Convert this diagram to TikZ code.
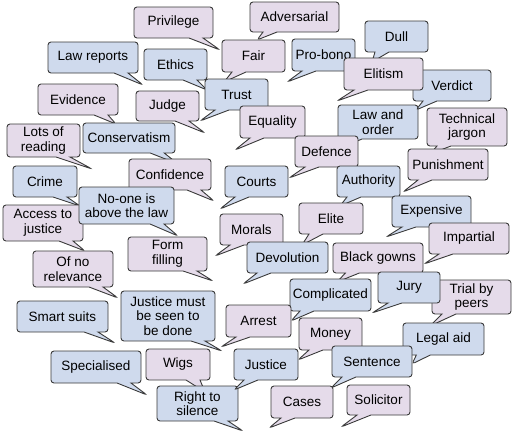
\documentclass[tikz,border=0pt]{standalone}
\usepackage{fontspec}
\setmainfont{Liberation Sans}
\usetikzlibrary{shapes.callouts}
\definecolor{BubblePink}{RGB}{229,219,234}
\definecolor{BubbleBlue}{RGB}{207,218,237}
\definecolor{BubbleEdge}{RGB}{58,58,58}
\tikzset{
  bubble/.style={rectangle callout,draw=BubbleEdge,line width=0.9pt,rounded corners=3pt,callout pointer width=14pt,minimum height=31pt,minimum width=63pt,inner sep=1pt,align=center,font=\fontsize{13.5}{14.5}\selectfont},
  pinkbubble/.style={bubble,fill=BubblePink},
  bluebubble/.style={bubble,fill=BubbleBlue}
}

\begin{document}
\begin{tikzpicture}[x=1pt,y=-1pt]
\useasboundingbox (0,0) rectangle (512,432);

% top rows
\node[pinkbubble,minimum width=79pt,callout absolute pointer={(220,50)}] (privilege) at (173.5,22.5) {Privilege};
\node[pinkbubble,minimum width=89pt,minimum height=30pt,callout absolute pointer={(257,40)}] (adversarial) at (294.5,17) {Adversarial};
\node[bluebubble,minimum width=90pt,callout absolute pointer={(143,85)}] (lawreports) at (93,57.5) {Law reports};
\node[bluebubble,callout absolute pointer={(207,90)}] (ethics) at (175.5,64.5) {Ethics};
\node[pinkbubble,minimum height=32pt,callout absolute pointer={(224,82)}] (fair) at (253.5,56) {Fair};
\node[bluebubble,callout absolute pointer={(200,121)}] (trust) at (236.5,94.5) {Trust};
\node[bluebubble,minimum height=32pt,callout absolute pointer={(287,82)}] (probono) at (323.5,55) {Pro-bono};
\node[bluebubble,callout absolute pointer={(372,62)}] (dull) at (396.5,36.5) {Dull};
\node[bluebubble,minimum width=80pt,minimum height=34pt,callout absolute pointer={(336,150)}] (laworder) at (378,122) {Law and\\order};
\node[bluebubble,minimum width=78pt,callout absolute pointer={(416,110)}] (verdict) at (452,85.5) {Verdict};
\node[pinkbubble,minimum width=79pt,minimum height=32pt,callout absolute pointer={(337,101)}] (elitism) at (383.5,74) {Elitism};
\node[pinkbubble,minimum width=80pt,callout absolute pointer={(116,124)}] (evidence) at (78,99.5) {Evidence};
\node[pinkbubble,minimum height=30pt,callout absolute pointer={(205,133)}] (judge) at (167.5,106) {Judge};
\node[pinkbubble,minimum width=65pt,minimum height=32pt,callout absolute pointer={(235,150)}] (equality) at (272.5,122) {Equality};
\node[pinkbubble,callout absolute pointer={(289,178)}] (defence) at (326.5,151.5) {Defence};
\node[pinkbubble,minimum width=80pt,minimum height=38pt,callout absolute pointer={(430,154)}] (jargon) at (467,127) {Technical\\jargon};
\node[pinkbubble,minimum width=80pt,callout absolute pointer={(403,192)}] (punishment) at (448,164.5) {Punishment};

% middle rows
\node[pinkbubble,minimum width=73pt,minimum height=33pt,callout absolute pointer={(92,169)}] (reading) at (43.5,140.5) {Lots of\\reading};
\node[bluebubble,minimum width=92pt,minimum height=30pt,callout absolute pointer={(178,164)}] (conservatism) at (129,138) {Conservatism};
\node[pinkbubble,minimum width=82pt,callout absolute pointer={(214,201)}] (confidence) at (170,174.5) {Confidence};
\node[bluebubble,minimum width=64pt,callout absolute pointer={(80,206)}] (crime) at (45,181.5) {Crime};
\node[pinkbubble,minimum width=80pt,minimum height=36pt,callout absolute pointer={(85,251)}] (access) at (43,223) {Access to\\justice};
\node[bluebubble,minimum width=95pt,minimum height=37pt,callout absolute pointer={(178,236)}] (noone) at (126.5,205.5) {No-one is\\above the law};
\node[bluebubble,callout absolute pointer={(220,209)}] (courts) at (256.5,181.5) {Courts};
\node[bluebubble,callout absolute pointer={(340,206)}] (authority) at (368.5,181.5) {Authority};
\node[pinkbubble,minimum width=64pt,callout absolute pointer={(302,245)}] (elite) at (331,218.5) {Elite};
\node[bluebubble,minimum width=79pt,callout absolute pointer={(386,237)}] (expensive) at (431.5,211.5) {Expensive};
\node[pinkbubble,minimum width=80pt,callout absolute pointer={(424,264)}] (impartial) at (469,238.5) {Impartial};
\node[pinkbubble,callout absolute pointer={(215,256)}] (morals) at (251.5,229.5) {Morals};
\node[bluebubble,minimum width=81pt,callout absolute pointer={(243,284)}] (devolution) at (287.5,257.5) {Devolution};
\node[pinkbubble,minimum width=79pt,minimum height=34pt,callout absolute pointer={(213,281)}] (form) at (167.5,254) {Form\\filling};
\node[pinkbubble,minimum width=80pt,minimum height=36pt,callout absolute pointer={(118,298)}] (relevance) at (73,269) {Of no\\relevance};
\node[pinkbubble,minimum width=90pt,minimum height=30pt,callout absolute pointer={(337,282)}] (gowns) at (378,258) {Black gowns};
\node[pinkbubble,minimum width=79pt,minimum height=34pt,callout absolute pointer={(430,326)}] (peers) at (471.5,297) {Trial by\\peers};
\node[bluebubble,minimum width=62pt,callout absolute pointer={(372,313)}] (jury) at (409,287.5) {Jury};
\node[bluebubble,minimum width=81pt,minimum height=32pt,callout absolute pointer={(291,321)}] (complicated) at (330.5,295) {Complicated};
\node[bluebubble,minimum width=81pt,minimum height=32pt,callout absolute pointer={(412,364)}] (legalaid) at (443.5,339) {Legal aid};

% bottom rows
\node[bluebubble,minimum width=91pt,callout absolute pointer={(115,343)}] (suits) at (62.5,316.5) {Smart suits};
\node[bluebubble,minimum width=94pt,minimum height=50pt,callout absolute pointer={(222,351)}] (seen) at (168,316) {Justice must\\be seen to\\be done};
\node[pinkbubble,minimum width=65pt,minimum height=32pt,callout absolute pointer={(221,347)}] (arrest) at (258.5,321) {Arrest};
\node[pinkbubble,minimum height=32pt,callout absolute pointer={(298,360)}] (money) at (330.5,334) {Money};
\node[bluebubble,minimum width=80pt,callout absolute pointer={(331,388)}] (sentence) at (372,361.5) {Sentence};
\node[bluebubble,minimum width=90pt,minimum height=32pt,callout absolute pointer={(147,395)}] (specialised) at (96,367) {Specialised};
\node[pinkbubble,minimum width=64pt,callout absolute pointer={(205,392)}] (wigs) at (178,364.5) {Wigs};
\node[bluebubble,minimum width=81pt,minimum height=35pt,callout absolute pointer={(243,431)}] (silence) at (197.5,403.5) {Right to\\silence};
\node[bluebubble,minimum width=64pt,callout absolute pointer={(234,390)}] (justice) at (266,364.5) {Justice};
\node[pinkbubble,minimum width=62pt,minimum height=32pt,callout absolute pointer={(269,428)}] (cases) at (302,402) {Cases};
\node[pinkbubble,minimum height=30pt,callout absolute pointer={(341,427)}] (solicitor) at (378.5,400) {Solicitor};
\end{tikzpicture}
\end{document}
